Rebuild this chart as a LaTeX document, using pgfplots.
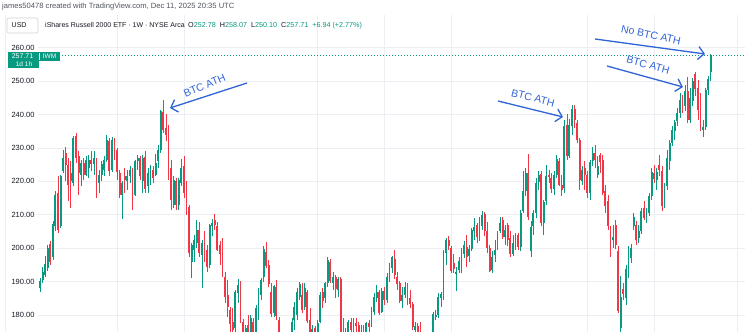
\documentclass[border=0pt]{standalone}
\usepackage{fontspec}
\setmainfont{Liberation Sans}
\usepackage{pgfplots}
\usepackage{pgfplotstable}
\pgfplotsset{compat=1.18}
\usetikzlibrary{arrows.meta}
\definecolor{upc}{RGB}{8,153,129}
\definecolor{dnc}{RGB}{242,54,69}
\definecolor{gridc}{RGB}{236,238,243}
\definecolor{txt}{RGB}{19,23,34}
\definecolor{subt}{RGB}{80,84,94}
\definecolor{annc}{RGB}{48,100,214}
\pgfplotstableread{
i o h l c d
0 188.0 191.0 187.0 190.3 1
1 190.5 194.5 189.5 193.0 1
2 192.0 197.8 191.3 195.3 1
3 194.0 201.0 193.3 200.0 1
4 201.3 202.0 195.0 196.0 0
5 197.3 208.0 196.5 207.3 1
6 206.5 217.0 205.0 216.0 1
7 216.5 221.5 204.5 205.5 0
8 206.5 222.0 206.0 221.5 1
9 223.0 229.5 222.5 227.0 1
10 228.5 230.3 220.0 225.0 0
11 225.0 227.0 214.0 219.0 0
12 222.5 226.0 212.0 220.0 0
13 219.5 233.5 218.5 233.0 1
14 233.5 234.5 225.5 227.0 0
15 227.5 229.0 216.0 222.5 0
16 222.0 226.5 218.5 225.5 1
17 225.5 227.0 220.5 222.0 0
18 222.0 227.5 221.5 226.5 1
19 224.0 228.0 221.0 226.3 1
20 226.5 229.0 223.0 225.2 0
21 225.3 229.0 222.0 227.0 1
22 226.5 227.0 215.0 219.5 0
23 219.5 223.5 216.5 222.0 1
24 221.8 226.0 220.0 225.3 1
25 223.5 227.5 221.5 226.3 1
26 226.5 233.8 225.8 232.3 1
27 232.0 233.0 221.5 223.2 0
28 223.5 233.3 222.8 232.3 1
29 232.0 233.0 226.5 227.5 0
30 229.3 230.0 220.5 222.8 0
31 222.5 223.5 215.0 216.0 0
32 216.0 220.0 208.8 219.5 1
33 221.5 224.0 216.5 220.3 0
34 220.0 223.5 217.5 221.5 1
35 221.5 224.5 219.5 223.5 1
36 223.5 224.0 211.5 215.3 0
37 216.0 226.5 215.5 226.0 1
38 226.0 228.0 223.5 227.0 1
39 227.0 227.5 220.5 221.5 0
40 220.0 228.0 216.5 227.0 1
41 227.3 229.0 216.5 217.8 0
42 218.5 224.0 216.5 222.5 1
43 222.0 225.0 219.0 223.3 1
44 223.5 224.5 219.5 221.0 0
45 222.0 228.3 221.5 225.5 1
46 226.0 231.0 224.0 229.3 1
47 229.3 241.5 228.5 241.0 1
48 240.8 244.3 234.5 235.3 0
49 236.0 240.3 232.0 233.8 0
50 234.3 237.0 220.5 221.3 0
51 224.0 226.3 211.5 214.3 0
52 213.0 221.5 212.0 220.3 1
53 220.0 221.0 211.5 213.0 0
54 213.0 221.0 211.5 220.5 1
55 219.5 226.8 218.5 224.0 1
56 224.5 227.5 215.0 216.5 0
57 216.5 220.0 210.0 212.3 0
58 212.3 213.0 197.5 198.5 0
59 196.0 201.5 191.0 200.8 1
60 199.5 204.0 196.0 202.3 1
61 201.5 208.5 200.0 205.5 1
62 205.5 207.8 197.5 198.5 0
63 198.0 202.5 188.0 201.5 1
64 202.0 205.0 196.0 199.0 0
65 199.3 201.0 193.0 194.3 0
66 195.0 207.3 194.0 206.8 1
67 206.5 208.8 203.5 207.5 1
68 208.5 210.3 205.5 207.0 0
69 206.5 207.8 199.0 199.5 0
70 201.0 202.0 195.0 198.3 0
71 199.0 203.0 191.5 192.3 0
72 191.3 193.0 183.5 185.3 0
73 186.0 190.5 179.5 182.3 0
74 181.5 182.5 172.5 177.3 0
75 178.0 182.0 171.5 175.5 0
76 176.0 187.5 175.0 186.8 1
77 186.5 190.8 183.5 189.0 1
78 189.0 190.3 177.5 178.3 0
79 178.0 178.8 162.5 169.0 0
80 170.0 177.0 167.5 176.0 1
81 177.0 180.0 169.5 172.0 0
82 172.5 180.0 170.5 179.0 1
83 178.0 179.0 170.5 175.0 0
84 175.0 183.0 172.0 182.0 1
85 182.0 188.0 178.5 187.3 1
86 186.0 191.2 184.5 190.5 1
87 191.5 200.5 190.0 199.8 1
88 198.8 201.8 194.0 194.8 0
89 195.0 196.5 188.5 189.3 0
90 187.0 189.5 179.5 180.3 0
91 180.5 189.0 179.5 188.8 1
92 188.3 190.5 178.5 179.8 0
93 178.5 179.5 169.5 170.5 0
94 170.5 172.0 162.3 164.3 0
95 165.0 175.0 163.5 167.0 1
96 168.0 170.5 162.5 166.0 0
97 166.5 174.5 165.5 172.0 1
98 172.0 179.0 170.5 178.0 1
99 178.5 184.0 175.5 182.5 1
100 180.0 188.0 178.5 186.8 1
101 185.3 190.0 184.5 189.3 1
102 186.0 189.5 180.5 181.5 0
103 182.5 189.5 181.5 188.0 1
104 187.0 187.5 177.5 178.3 0
105 178.5 182.0 172.5 174.5 0
106 174.0 177.0 170.5 175.8 1
107 176.0 176.8 172.0 174.0 0
108 173.0 178.5 171.5 177.5 1
109 178.0 186.8 177.5 186.0 1
110 187.0 188.0 182.0 184.3 0
111 185.0 190.0 183.5 189.5 1
112 189.5 197.3 188.5 196.5 1
113 195.8 196.8 189.5 190.3 0
114 189.5 193.0 187.5 191.5 1
115 191.5 192.0 185.0 187.8 0
116 187.5 191.5 185.5 190.8 1
117 190.8 191.5 174.0 174.5 0
118 175.0 179.0 168.5 171.5 0
119 171.0 176.0 169.5 172.5 1
120 173.0 178.5 172.5 178.0 1
121 178.0 179.0 173.5 175.5 0
122 175.5 179.0 174.5 177.5 1
123 177.5 179.0 175.0 176.8 0
124 177.0 178.0 171.0 173.5 0
125 173.5 177.0 170.0 175.0 1
126 175.0 177.0 172.0 173.0 0
127 173.0 178.0 172.5 177.5 1
128 177.5 178.5 174.5 176.5 0
129 176.8 182.5 176.5 182.0 1
130 181.0 186.5 180.0 185.3 1
131 185.0 189.0 184.0 187.0 1
132 187.0 187.5 180.0 180.5 0
133 181.0 188.0 180.5 187.3 1
134 187.3 188.3 183.0 184.5 0
135 184.5 192.5 183.5 191.5 1
136 191.3 195.5 190.0 194.3 1
137 194.0 197.8 192.5 197.3 1
138 196.8 199.3 190.8 192.0 0
139 191.5 193.0 187.5 189.3 0
140 189.5 190.3 183.5 184.3 0
141 184.3 188.3 182.0 186.0 1
142 186.0 190.0 185.0 188.5 1
143 189.3 189.5 183.0 184.0 0
144 185.0 187.5 182.0 183.3 0
145 183.3 184.0 175.5 176.5 0
146 175.5 178.0 172.5 176.7 1
147 176.7 177.5 170.5 174.5 0
148 175.0 178.0 171.5 172.5 0
149 172.5 175.0 166.0 166.5 0
150 167.0 168.0 161.7 163.2 0
151 163.5 174.5 163.0 174.0 1
152 173.5 174.5 168.5 169.6 0
153 170.0 181.0 169.5 180.3 1
154 179.5 181.5 178.5 180.0 1
155 180.0 186.5 179.0 185.5 1
156 185.0 187.0 182.5 186.3 1
157 185.3 199.3 184.5 198.5 1
158 198.5 203.0 195.0 202.3 1
159 202.3 203.5 199.5 200.7 0
160 200.0 200.5 192.5 193.3 0
161 195.5 198.3 192.5 193.7 0
162 192.3 194.3 187.3 193.0 1
163 193.5 197.5 192.5 196.3 1
164 193.3 200.0 192.5 199.3 1
165 198.3 202.0 197.0 201.0 1
166 200.3 204.0 194.5 197.5 0
167 197.8 201.0 196.0 199.7 1
168 199.7 206.0 199.0 205.3 1
169 205.0 209.0 202.5 206.3 1
170 206.8 207.5 201.5 203.3 0
171 203.5 209.3 202.0 206.8 1
172 206.5 211.0 205.5 210.0 1
173 210.3 210.8 203.5 205.0 0
174 205.0 207.8 198.5 200.0 0
175 200.0 201.0 193.0 193.3 0
176 193.5 199.0 192.5 197.5 1
177 198.0 202.5 196.0 199.5 1
178 200.0 205.0 199.5 204.0 1
179 205.0 209.3 204.5 207.5 1
180 208.3 209.3 202.8 203.3 0
181 203.3 207.0 201.0 205.5 1
182 207.0 207.5 200.5 202.3 0
183 203.0 205.0 197.5 198.3 0
184 198.3 204.0 197.8 201.5 1
185 201.0 204.5 199.5 202.8 1
186 203.8 204.5 199.5 200.3 0
187 200.3 211.5 199.0 210.5 1
188 211.0 223.0 210.5 217.0 1
189 217.0 224.0 215.5 222.4 1
190 222.5 228.3 208.5 209.4 0
191 199.0 208.0 197.5 206.3 1
192 206.5 211.5 204.0 210.6 1
193 210.6 221.0 209.0 219.6 1
194 219.8 223.0 217.5 222.0 1
195 222.3 223.0 206.5 207.5 0
196 207.5 214.5 204.0 213.8 1
197 214.0 224.8 213.0 221.5 1
198 222.0 223.5 219.5 221.3 0
199 221.0 222.5 216.5 217.7 0
200 217.7 223.0 216.0 222.0 1
201 222.0 228.0 221.0 226.8 1
202 226.0 227.0 218.5 218.9 0
203 219.0 222.0 215.5 217.3 0
204 218.0 238.5 216.5 236.6 1
205 237.0 240.3 226.5 227.6 0
206 227.6 238.8 227.0 237.0 1
207 236.5 243.0 234.0 241.8 1
208 241.8 242.8 236.0 238.5 0
209 237.5 238.5 231.5 232.3 0
210 232.3 233.0 217.5 220.3 0
211 220.0 224.5 219.0 223.5 1
212 224.0 226.0 217.5 222.0 0
213 222.0 223.0 215.0 216.5 0
214 216.5 226.5 214.5 225.7 1
215 226.0 230.3 224.5 228.5 1
216 228.5 231.0 224.0 226.5 0
217 222.0 227.5 221.0 224.7 1
218 227.8 228.5 222.5 225.8 0
219 226.5 228.0 216.0 216.6 0
220 217.0 219.0 210.5 212.5 0
221 214.0 216.0 205.5 206.5 0
222 204.5 206.5 197.5 202.5 0
223 202.5 207.0 200.0 203.3 1
224 206.8 208.5 199.8 200.8 0
225 199.0 200.5 180.5 181.3 0
226 176.0 191.8 171.7 185.3 1
227 187.8 189.5 184.5 186.3 0
228 185.0 195.0 183.0 193.8 1
229 194.3 200.5 191.0 199.8 1
230 197.0 201.3 195.5 200.0 1
231 206.5 210.5 205.5 209.3 1
232 207.0 208.0 201.0 202.3 0
233 203.0 207.0 201.5 205.2 1
234 205.0 212.0 204.3 211.0 1
235 212.0 214.0 208.3 209.0 0
236 208.5 212.0 207.5 210.0 1
237 210.5 216.5 209.5 215.5 1
238 215.5 224.0 214.5 222.8 1
239 222.5 225.0 219.5 220.8 0
240 220.5 224.0 217.5 222.8 1
241 225.0 228.0 221.5 223.5 0
242 223.0 224.5 211.0 212.5 0
243 213.0 219.5 212.0 218.5 1
244 218.5 229.5 217.5 227.0 1
245 226.0 232.5 223.5 231.5 1
246 231.5 236.5 230.5 235.3 1
247 235.0 238.5 232.3 237.8 1
248 238.0 242.0 236.5 240.5 1
249 240.5 246.5 239.0 244.5 1
250 245.0 246.0 240.5 242.5 0
251 242.5 248.8 241.0 247.0 1
252 247.0 251.3 237.5 238.5 0
253 238.5 248.0 237.5 245.0 1
254 244.0 251.0 242.5 250.0 1
255 252.0 252.8 245.5 247.5 0
256 248.0 250.3 238.5 241.5 0
257 242.3 246.5 235.0 237.3 0
258 235.5 238.5 233.3 236.3 1
259 236.3 248.0 235.5 247.3 1
260 247.3 251.5 246.0 250.77 1
261 252.78 258.07 250.10 257.71 1
}\iwm
\begin{document}
\begin{tikzpicture}[x=1pt,y=1pt]
\path[use as bounding box] (0,0) rectangle (745,332);
\draw[gridc, line width=0.6pt] (5,0) -- (5,317);
\begin{axis}[
  at={(38pt,0pt)}, anchor=south west, scale only axis,
  width=707pt, height=317pt,
  xmin=-0.78, xmax=274.32, ymin=174.9, ymax=269.8,
  axis line style={draw=none}, major tick length=0pt,
  xtick={30,56,108,134,160,213,239,271.5}, xticklabels={},
  ytick={180,190,...,260},
  grid=major, grid style={gridc, line width=0.6pt},
  yticklabel style={font=\fontsize{7.5}{8}\selectfont, text=txt,
    /pgf/number format/fixed, /pgf/number format/fixed zerofill,
    /pgf/number format/precision=2, /pgf/number format/assume math mode=true},
]
\addplot[upc, line width=0.6pt, dash pattern=on 0.8pt off 2.2pt, forget plot]
  coordinates {(-0.78,257.71) (274.32,257.71)};
% up wicks
\addplot[upc, line width=0.7pt, mark=none, forget plot,
  quiver={u=0, v={\thisrow{d}*(\thisrow{h}-\thisrow{l})}}]
  table[x=i, y=l]{\iwm};
% down wicks
\addplot[dnc, line width=0.7pt, mark=none, forget plot,
  quiver={u=0, v={(1-\thisrow{d})*(\thisrow{h}-\thisrow{l})}}]
  table[x=i, y=l]{\iwm};
% up bodies
\addplot[upc, line width=1.9pt, mark=none, forget plot,
  quiver={u=0, v={\thisrow{d}*max(abs(\thisrow{c}-\thisrow{o}),0.25)}}]
  table[x=i, y expr={min(\thisrow{o},\thisrow{c})}]{\iwm};
% down bodies
\addplot[dnc, line width=1.9pt, mark=none, forget plot,
  quiver={u=0, v={(1-\thisrow{d})*max(abs(\thisrow{c}-\thisrow{o}),0.25)}}]
  table[x=i, y expr={min(\thisrow{o},\thisrow{c})}]{\iwm};
\end{axis}
% header
\node[anchor=west, inner sep=0pt, text=subt, font=\fontsize{7.6}{8}\selectfont] at (2,325)
  {james50478 created with TradingView.com, Dec 11, 2025 20:35 UTC};
\draw[rounded corners=2pt, draw=black!18, line width=0.6pt] (7,299) rectangle (38,314);
\node[anchor=west, inner sep=0pt, text=txt, font=\fontsize{7}{8}\selectfont] at (11.5,306.5) {USD};
\node[anchor=west, inner sep=0pt, text=txt, font=\fontsize{7}{8}\selectfont] at (45,306.5)
  {iShares Russell 2000 ETF · 1W · NYSE Arca};
\node[anchor=west, inner sep=0pt, text=txt, font=\fontsize{7.2}{8}\selectfont] at (188,306.5)
  {O\textcolor{upc}{252.78}\ \ H\textcolor{upc}{258.07}\ \ L\textcolor{upc}{250.10}\ \ C\textcolor{upc}{257.71}\ \ \textcolor{upc}{+6.94 (+2.77\%)}};
% price badge
\fill[upc] (8,264) rectangle (39,280);
\fill[upc] (39,271) rectangle (60,280);
\draw[white, line width=0.4pt] (39,272) -- (39,279);
\node[text=white, inner sep=0pt, font=\fontsize{7}{8}\selectfont] at (22.5,275.8) {257.71};
\node[text=white, inner sep=0pt, font=\fontsize{6.5}{8}\selectfont] at (49.5,275.8) {IWM};
\node[text=white, inner sep=0pt, font=\fontsize{6.5}{8}\selectfont] at (24,268) {1d 1h};
% annotations
\begin{scope}[annc, line width=1.3pt]
\draw[-{Straight Barb[length=6pt,width=13pt]}] (247,249) -- (170,224);
\node[rotate=23, font=\fontsize{10.5}{12}\selectfont, inner sep=0pt] at (204.5,246.5) {BTC ATH};
\draw[-{Straight Barb[length=6pt,width=13pt]}] (498,231) -- (563,215);
\node[rotate=-14, font=\fontsize{10.5}{12}\selectfont, inner sep=0pt] at (533,234) {BTC ATH};
\draw[-{Straight Barb[length=6pt,width=13pt]}] (595,293) -- (705,278);
\node[rotate=-12, font=\fontsize{10.5}{12}\selectfont, inner sep=0pt] at (651,297) {No BTC ATH};
\draw[-{Straight Barb[length=6pt,width=13pt]}] (607,266) -- (683,245);
\node[rotate=-15, font=\fontsize{10.5}{12}\selectfont, inner sep=0pt] at (648,267) {BTC ATH};
\end{scope}
\end{tikzpicture}
\end{document}
